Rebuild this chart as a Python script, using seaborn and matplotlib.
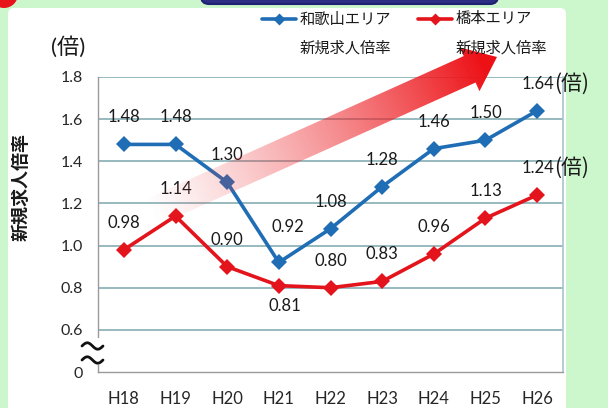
import numpy as np
import pandas as pd
import matplotlib
matplotlib.use("Agg")
import matplotlib.pyplot as plt
from matplotlib.patches import Polygon, FancyBboxPatch, Circle, Rectangle
from matplotlib.lines import Line2D
import seaborn as sns

# data
years = ["H18", "H19", "H20", "H21", "H22", "H23", "H24", "H25", "H26"]
wakayama = [1.48, 1.48, 1.30, 0.92, 1.08, 1.28, 1.46, 1.50, 1.64]
hashimoto = [0.98, 1.14, 0.90, 0.81, 0.80, 0.83, 0.96, 1.13, 1.24]
series_names = ["和歌山エリア", "橋本エリア"]
yticks = [0.4, 0.6, 0.8, 1.0, 1.2, 1.4, 1.6, 1.8]
ytick_labels = ["0", "0.6", "0.8", "1.0", "1.2", "1.4", "1.6", "1.8"]

BLUE = "#1f6db5"
RED = "#e3141c"
GRID = "#8fb4ba"
GREEN_BG = "#ccf6cc"

df = pd.DataFrame({
    "year": years * 2,
    "ratio": wakayama + hashimoto,
    "area": [series_names[0]] * len(years) + [series_names[1]] * len(years),
})

sns.set_style("white")
plt.rcParams["font.family"] = ["Lato", "Noto Sans CJK JP", "DejaVu Sans"]

W, H = 608, 408
fig = plt.figure(figsize=(W / 100, H / 100), dpi=100)
fig.patch.set_facecolor(GREEN_BG)

# background panel (white card on green)
bg = fig.add_axes([0, 0, 1, 1], zorder=0)
bg.set_xlim(0, W)
bg.set_ylim(H, 0)
bg.axis("off")
bg.add_patch(FancyBboxPatch((8, 8), 558, 420, boxstyle="round,pad=0,rounding_size=6",
                            fc="white", ec="none"))

ax = fig.add_axes([98 / W, 1 - 372 / H, (563 - 98) / W, (372 - 77) / H], zorder=1)
ax.set_facecolor("none")

sns.lineplot(data=df, x="year", y="ratio", hue="area", style="area",
             palette=[BLUE, RED], markers=["D", "D"], dashes=False,
             linewidth=2.6, markersize=8, markeredgewidth=0, sort=False,
             legend=False, ax=ax)

ax.set_xlim(-0.5, len(years) - 0.5)
ax.set_ylim(0.4, 1.8)
ax.set_yticks(yticks)
ax.set_yticklabels(ytick_labels, fontsize=11.5)
ax.set_xticks(range(len(years)))
ax.set_xticklabels(years, fontsize=12)
ax.set_xticks(np.arange(-0.5, len(years)), minor=True)
ax.tick_params(axis="x", which="major", length=0, pad=14)
ax.tick_params(axis="x", which="minor", length=5, color="#9a9a9a", direction="out")
ax.tick_params(axis="y", length=5, color=GRID, direction="out", pad=6)
ax.set_xlabel("")
ax.set_ylabel("")
for yv in yticks[1:]:
    ax.axhline(yv, color=GRID, lw=1.3, zorder=0)
for side in ["left", "bottom"]:
    ax.spines[side].set_color("#9a9a9a")
    ax.spines[side].set_linewidth(1.0)
ax.spines["top"].set_visible(False)
ax.spines["right"].set_color("#a9c4cc")
ax.spines["right"].set_linewidth(1.2)

# data labels (pixel offsets, default above the point)
default_off = (0, 27)
special_off = {("w", 3): (9, 35), ("h", 3): (6, -20)}
for key, vals in (("w", wakayama), ("h", hashimoto)):
    for i, v in enumerate(vals):
        dx, dy = special_off.get((key, i), default_off)
        txt = f"{v:.2f}"
        if i == len(vals) - 1:
            ax.annotate(txt, (i, v), xytext=(-16 * 0.72, dy * 0.72),
                        textcoords="offset points", ha="left", va="center",
                        fontsize=12, color="#1a1a1a", zorder=5)
            ax.annotate("(倍)", (i, v), xytext=(17 * 0.72, dy * 0.72),
                        textcoords="offset points", ha="left", va="center",
                        fontsize=15, color="#1a1a1a", family="Noto Sans CJK JP",
                        zorder=5, annotation_clip=False)
        else:
            ax.annotate(txt, (i, v), xytext=(dx * 0.72, dy * 0.72),
                        textcoords="offset points", ha="center", va="center",
                        fontsize=12, color="#1a1a1a", zorder=5)

# overlay in pixel coordinates
ov = fig.add_axes([0, 0, 1, 1], zorder=3)
ov.set_xlim(0, W)
ov.set_ylim(H, 0)
ov.axis("off")
ov.patch.set_alpha(0)

# gradient arrow
T = np.array([150.0, 213.0])
P = np.array([497.0, 57.0])
L = np.linalg.norm(P - T)
u = (P - T) / L
n = np.array([-u[1], u[0]])
B = P - 30 * u
hw, HW = 14.5, 24.0
pts = [T + hw * n, B + hw * n, B + HW * n, P, B - HW * n, B - hw * n, T - hw * n]
poly = Polygon(pts, closed=True, fc="none", ec="none")
ov.add_patch(poly)
gx, gy = np.meshgrid(np.arange(W) + 0.5, np.arange(H) + 0.5)
t = np.clip(((gx - T[0]) * u[0] + (gy - T[1]) * u[1]) / L, 0, 1)
img = np.zeros((H, W, 4))
img[..., 0] = 0.93
img[..., 1] = 0.06 + 0.2 * (1 - t)
img[..., 2] = 0.08 + 0.2 * (1 - t)
img[..., 3] = np.clip(t ** 1.1 * 1.05, 0, 1)
im = ov.imshow(img, extent=(0, W, H, 0), origin="upper", interpolation="bilinear", zorder=2)
im.set_clip_path(poly)
ov.set_xlim(0, W)
ov.set_ylim(H, 0)

# axis break marks (two tildes over a gap in the y axis)
ov.add_patch(Rectangle((95, 338), 6, 27, fc="white", ec="none"))
tx = np.linspace(82, 103, 40)
for yy in (346, 360):
    ov.plot(tx, yy - 3.2 * np.sin((tx - 82) / 21 * 2 * np.pi), color="#111111",
            lw=2.0, solid_capstyle="round")

# unit and y label
ov.text(68, 47, "(倍)", fontsize=16, ha="center", va="center", color="#1a1a1a")
ov.text(21, 187, "新規求人倍率", fontsize=13, fontweight="bold", rotation=90,
        ha="center", va="center", family="Noto Sans CJK JP", color="#1a1a1a")

# legend
for x0, col, name in ((262, BLUE, series_names[0]), (418, RED, series_names[1])):
    ov.add_line(Line2D([x0, x0 + 34], [19, 19], color=col, lw=2.6))
    ov.plot([x0 + 17], [19], marker="D", ms=6, color=col, mec="none")
    ov.text(x0 + 38, 19, name, fontsize=11, ha="left", va="center",
            family="Noto Sans CJK JP", color="#1a1a1a")
    ov.text(x0 + 38, 48, "新規求人倍率", fontsize=11, ha="left", va="center",
            family="Noto Sans CJK JP", color="#1a1a1a")

# top decorations (cut-off header pieces)
ov.add_patch(Circle((4, -6), 14, fc="#e8141c", ec="none"))
ov.add_patch(FancyBboxPatch((201, -20), 297, 24, boxstyle="round,pad=0,rounding_size=8",
                            fc="#2b2e83", ec="#1f2270", lw=1.5))

fig.savefig("out.png", dpi=100, facecolor=fig.get_facecolor())
